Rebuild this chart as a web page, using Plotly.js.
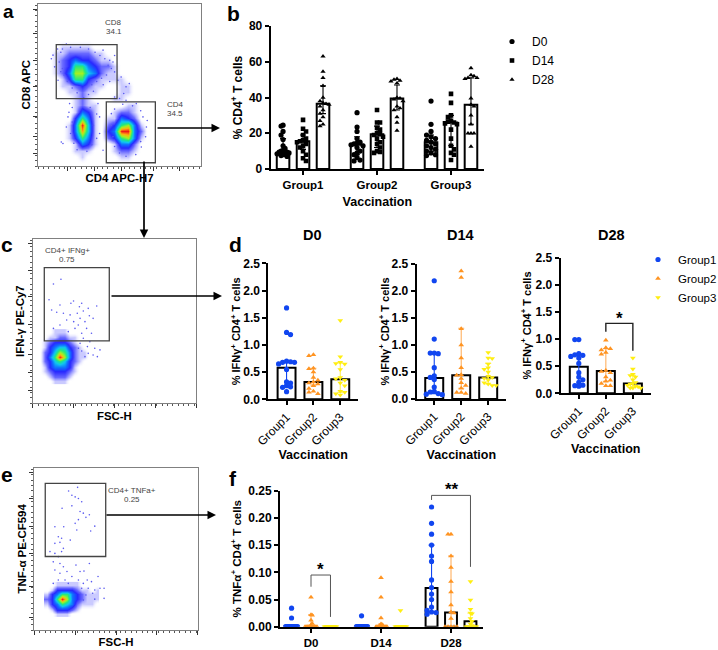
<!DOCTYPE html>
<html><head><meta charset="utf-8">
<script src="https://cdn.plot.ly/plotly-3.0.1.min.js"></script>
<style>html,body{margin:0;padding:0;background:#fff}</style></head>
<body><div id="chart" style="width:718px;height:650px"></div>
<script>
// ---------- panel b: % CD4+ T cells ----------
const groups = ["Group1","Group2","Group3"];
const days = ["D0","D14","D28"];
const cd4_g1_d0 = [24.5,24,21,19,16.5,13,11.5,10.5,10,9.5,9.5,9,9,8.5,8,7.5,7];
const cd4_g1_d14 = [27.5,22.5,21,19,17,16,15.5,15,14,13,12,10,8,6,4.5];
const cd4_g1_d28 = [63,54.5,51,46.5,40,38,37,36.5,36,35,33,31,29,27,25,24];
const cd4_g2_d0 = [31.5,23.5,21,17,15,14.5,14,13.5,13,12,10,9,8,6.5,5,4.5];
const cd4_g2_d14 = [33,26,26,23,22,20,19.5,19,18,17,15,14,12,10,9.5,9];
const cd4_g2_d28 = [50.5,50,49.5,49,48,40,39.5,39,38,35,34,33,29,26,21.5];
const cd4_g3_d0 = [38,25,21,19,18,17,16,15,14,13,12,11,10,9,8,7.5];
const cd4_g3_d14 = [42,37,30,29,27,26.5,26,25.5,25,22,17,13,11,9,8,5];
const cd4_g3_d28 = [56.5,52.5,52,51,51,50.5,39.5,36,35,30,25,20,20,20,12.5];
const cd4_med = [[9,13.5,15],[15.5,19.5,26],[36.5,39.5,36]];
const cd4_lo  = [[7,8,10],[11,12,13],[31,33,25]];
const cd4_hi  = [[17,18,19],[19,24,30],[46.5,47,51]];
// ---------- panel d: % IFNg+ ----------
const ifn_d0_g1 = [1.68,1.23,1.19,0.7,0.69,0.68,0.68,0.65,0.55,0.32,0.3,0.25,0.23,0.22,0.14];
const ifn_d0_g2 = [0.82,0.8,0.57,0.56,0.5,0.4,0.35,0.32,0.3,0.28,0.25,0.2,0.15,0.13,0.1];
const ifn_d0_g3 = [1.45,0.78,0.68,0.66,0.65,0.55,0.4,0.38,0.35,0.3,0.25,0.15,0.13,0.1,0.08];
const ifn_d14_g1 = [2.19,1.11,0.85,0.85,0.84,0.58,0.43,0.4,0.36,0.22,0.14,0.13,0.1,0.09,0.08];
const ifn_d14_g2 = [2.37,2.25,1.3,1.0,0.76,0.58,0.45,0.44,0.38,0.3,0.25,0.2,0.12,0.12,0.1];
const ifn_d14_g3 = [0.86,0.76,0.75,0.65,0.58,0.55,0.5,0.42,0.4,0.38,0.35,0.3,0.28,0.25,0.25];
const ifn_d28_g1 = [0.99,0.99,0.73,0.71,0.7,0.68,0.65,0.55,0.38,0.3,0.25,0.2,0.15,0.14,0.13];
const ifn_d28_g2 = [0.98,0.84,0.82,0.8,0.75,0.72,0.42,0.4,0.38,0.3,0.24,0.22,0.18,0.14,0.14];
const ifn_d28_g3 = [0.65,0.45,0.35,0.33,0.3,0.25,0.2,0.18,0.17,0.15,0.13,0.12,0.1,0.1,0.1];
const ifn_med = [[0.58,0.32,0.37],[0.39,0.44,0.4],[0.49,0.41,0.18]];
const ifn_lo  = [[0.25,0.26,0.13],[0.1,0.2,0.28],[0.15,0.22,0.12]];
const ifn_hi  = [[0.68,0.57,0.67],[0.85,1.31,0.66],[0.72,0.82,0.33]];
// ---------- panel f: % TNFa+ ----------
const tnf_d0_g1 = [0.034,0.016,0,0,0,0,0,0,0,0,0,0,0,0,0];
const tnf_d0_g2 = [0.054,0.022,0.021,0.012,0.006,0.003,0,0,0,0,0,0,0,0,0];
const tnf_d0_g3 = [0,0,0,0,0,0,0,0,0,0,0,0,0,0,0];
const tnf_d14_g1 = [0.02,0,0,0,0,0,0,0,0,0,0,0,0,0,0];
const tnf_d14_g2 = [0.09,0.054,0.016,0.005,0.004,0.002,0,0,0,0,0,0,0,0,0];
const tnf_d14_g3 = [0.03,0,0,0,0,0,0,0,0,0,0,0,0,0,0];
const tnf_d28_g1 = [0.22,0.19,0.17,0.15,0.13,0.12,0.086,0.072,0.06,0.05,0.036,0.03,0.027,0.026,0.023];
const tnf_d28_g2 = [0.17,0.17,0.13,0.109,0.083,0.064,0.04,0.027,0.025,0.015,0,0,0,0,0];
const tnf_d28_g3 = [0.083,0.049,0.032,0.025,0.024,0.015,0.01,0.005,0.002,0,0,0,0,0,0];
const tnf_med = [[0,0,0.071],[0,0,0.026],[0,0,0.01]];
const tnf_lo  = [[0,0,0.027],[0,0,0],[0,0,0]];
const tnf_hi  = [[0,0,0.15],[0.022,0.005,0.13],[0,0,0.025]];
// ---------- flow cytometry density, read by eye (levels 0-9) ----------
const aX = [7,11,15,19,23,27,31,35,39,43,47,51,55,59,63,67,71,75];
const aY = [77.4,73.4,69.4,65.4,61.4,57.4,53.4,49.4,45.4,41.4,37.4,33.4,29.4,25.4,21.4,17.4,13.4,9.4,5.4,1.4];
const aZ = ["000000000000000000","001111100000000000","011222211000000000","012343321100000000",
"012366432210000000","012477542110000000","001366321111000000","001123211001100000",
"000112110001100000","000012100011000000","000012110000110000","000014310012210000",
"000036410114320000","000149510236741000","000148510349942000","000136410236741000",
"000014310014420000","000011100012210000","000001000001100000","000000000000000000"];
const cX = [4.5,7.5,10.5,13.5,16.5,19.5,22.5,25.5,28.5,31.5,34.5];
const cY = [43.6,40.5,37.5,34.5,31.4,28.4,25.4,22.3,19.3,16.2,13.2];
const cZ = ["00011100000","00112211000","01233321000","01345532100","02357642110","02469742110",
"02356532100","01344431000","01233321000","00122210000","00011100000"];
const eX = [7.5,10.6,13.7,16.7,19.8,22.8,25.9,29,32,35.1,38.1];
const eY = [28.1,25,22,18.9,15.8,12.7,9.7];
const eZ = ["00111110000","01333321101","13466432111","23697432111","13465421110","01333210000","00111000000"];
const aDotsX = [47,49,51,54,52.6,56,50,47,54,9.2,8.2,10.2,12.3,15.3,14.3,17.4,18.4,19.4,37.8,37.8,39.9,36.8,17.4,39.9,44,45,64.4,63.4,60.3,66.5,
  12,14,13,15,16,15,20,26,31,35,38,41,43,45,42,39,36,33,40,14,18,21,24,31,28,34,44,46,47,
  19,21,20,22,24,30,33,36,34,36,32,21,45,46,47,50,54,60,63,66,67,63,58,52,47];
const aDotsY = [57.9,52.8,54.8,48.7,44.6,50.7,41.5,42.5,40.5,68.2,66,61,52.8,13.8,14.8,24,30.2,38.4,20,30.2,9.7,38.4,75,71.3,65,32.2,30.2,11.7,38.4,24,
  72,70,64,60,56,72,73,73,72,70,68,66,62,60,56,54,52,50,50,58,52,48,45,44,42,46,52,64,68,
  33,27,20,14,10,9,13,17,25,32,36,36,25,18,12,8,6,7,15,18,28,34,37,38,35];
const cDotsX = [17.3,12.7,10,25,23.4,30,28.6,16.7,39.2,34,31,11.6,14.7,18.8,27.3,34.7,22.9,29,37,25.1,32,20.8,16.7,27.9,25.9,33,36,21.8,30,12.7,31,35,29,33.5,38,41.2,30,34,37,32,28,39.6];
const cDotsY = [75.5,72.6,63,62.3,60.9,60.9,58.8,59.8,59.2,57.8,56.2,56.8,55.4,54.8,54.8,53.3,53.8,51.7,51.7,49.7,49.7,50.7,47.7,47.7,45.6,45.6,42.6,43.6,42.6,45.6,39.6,37.5,36.5,34.5,33.5,32.5,31.8,30.4,29.4,28.4,33.5,28.4];
const eDotsX = [26.5,21,23,25,27,29,17,23,28,30,33.7,31.6,27,25,37,34.5,12.6,18,26,14.7,16.7,22,12.6,15.7,17.8,9.6,12.6,16.7,14.7,11.6,15.7,17.8,12.6,15.7,20,25.5,33.7,28,30.4,23,14.7,18.8,27,32.4,39,11.6,20.8,30,35,40.2,42.7,42.7,37,33,29,35.7,31.6,28,37,30];
const eDotsY = [87.9,85.6,83,82,81,79,75,76.5,73,72,71,69.4,68,65.7,64,61,63.6,63.6,61.6,57.5,56.5,55.4,53.4,54,50.3,48.3,47.2,48.3,45.2,42,41,39,37,35,36,40,41,36,36.3,33,30.8,30.8,30.8,30.8,33,28.7,28.7,28.7,29.8,25.7,25.7,19.5,24.6,25.7,25.7,22.6,21.6,22.6,19,18.5];

const FONT = '"Liberation Sans", Arial, sans-serif';
const W = 718, H = 650;
const BLUE = '#1146f0', ORANGE = '#ff9422', YELLOW = '#ffee11';
const dx = (a,b)=>[a/W,b/W];
const dy = (top,bot)=>[1-bot/H,1-top/H];

function swarm(vals, pxPerUnit, capPx){
  const placed=[]; const out=[];
  vals.forEach((v,i)=>{
    const sgn = i%2? -1:1; let k=0, off=0;
    while(true){
      off = k===0?0:(k%2?sgn:-sgn)*Math.ceil(k/2)*4.5;
      if(!placed.some(p=>Math.abs(p.o-off)<4 && Math.abs(p.v-v)*pxPerUnit<3.6)) break;
      k++;
    }
    placed.push({o:off,v}); out.push(off);
  });
  const m=Math.max(1,...out.map(Math.abs));
  return m>capPx? out.map(o=>o*capPx/m): out;
}
const traces=[];
function bar(xa,ya,xs,med,lo,hi,width,ecolor){
  traces.push({type:'bar',x:xs,y:med,width,xaxis:xa,yaxis:ya,showlegend:false,hoverinfo:'skip',
    marker:{color:'#fff',line:{color:'#000',width:2}},
    error_y:{type:'data',symmetric:false,array:hi.map((h,i)=>h-med[i]),arrayminus:med.map((m,i)=>m-lo[i]),color:ecolor,thickness:1.1,width:3}});
}
function pts(xa,ya,name,xs,ys,symbol,color,size,showlegend,legend){
  const t={type:'scatter',mode:'markers',x:xs,y:ys,name,xaxis:xa,yaxis:ya,showlegend,legendgroup:name,hoverinfo:'skip',
    marker:{symbol,color,size,line:{width:0}}};
  if(legend) t.legend=legend;
  traces.push(t);
}
// panel b
const cd4Sets=[[cd4_g1_d0,cd4_g2_d0,cd4_g3_d0],[cd4_g1_d14,cd4_g2_d14,cd4_g3_d14],[cd4_g1_d28,cd4_g2_d28,cd4_g3_d28]];
const cd4Off=[-0.27,0,0.27], cd4Sym=['circle','square','triangle-up'], cd4Size=[5.2,4.6,4.6];
days.forEach((d,i)=>{
  bar('x','y',[0,1,2].map(c=>c+cd4Off[i]),cd4_med[i],cd4_lo[i],cd4_hi[i],0.17,'#000');
});
days.forEach((d,i)=>{
  const xs=[],ys=[];
  cd4Sets[i].forEach((vals,g)=>{
    swarm(vals,143/80,6).forEach((o,j)=>{xs.push(g+cd4Off[i]+o/74);ys.push(vals[j]);});
  });
  pts('x','y',d,xs,ys,cd4Sym[i],'#000',cd4Size[i],true,'legend');
});
// panel d
const ifnSets=[[ifn_d0_g1,ifn_d0_g2,ifn_d0_g3],[ifn_d14_g1,ifn_d14_g2,ifn_d14_g3],[ifn_d28_g1,ifn_d28_g2,ifn_d28_g3]];
const gCol=[BLUE,ORANGE,YELLOW], gSym=['circle','triangle-up','triangle-down'], gSize=[5.2,5,5];
const gErr=[BLUE,'#ffb060','#ffee55'];
ifnSets.forEach((set,p)=>{
  const xa='x'+(p+2), ya='y'+(p+2);
  set.forEach((vals,g)=>bar(xa,ya,[g],[ifn_med[p][g]],[ifn_lo[p][g]],[ifn_hi[p][g]],0.667,gErr[g]));
  set.forEach((vals,g)=>{
    const xs=swarm(vals,136/2.5,8).map(o=>g+o/27);
    pts(xa,ya,groups[g],xs,vals,gSym[g],gCol[g],gSize[g],p===0,'legend2');
  });
});
// panel f
const tnfSets=[[tnf_d0_g1,tnf_d14_g1,tnf_d28_g1],[tnf_d0_g2,tnf_d14_g2,tnf_d28_g2],[tnf_d0_g3,tnf_d14_g3,tnf_d28_g3]];
const fOff=[-0.278,0,0.278];
tnfSets.forEach((set,g)=>bar('x5','y5',[0,1,2].map(c=>c+fOff[g]),tnf_med[g],tnf_lo[g],tnf_hi[g],0.17,gErr[g]));
tnfSets.forEach((set,g)=>{
  const xs=[],ys=[];
  set.forEach((vals,c)=>swarm(vals,136/0.25,6).forEach((o,j)=>{xs.push(c+fOff[g]+o/70);ys.push(vals[j]);}));
  pts('x5','y5',groups[g],xs,ys,gSym[g],gCol[g],gSize[g],false);
});
// flow plots
const jet=[[0,'rgba(255,255,255,0)'],[0.11,'rgba(150,150,255,0.5)'],[0.22,'rgba(70,70,255,0.8)'],[0.33,'#2828ff'],[0.44,'#1070ff'],[0.55,'#10c8f0'],[0.66,'#20e880'],[0.78,'#a8f020'],[0.88,'#ffb010'],[1,'#f01818']];
function flow(xa,ya,X,Y,Z,dX,dY){
  traces.push({type:'heatmap',x:X,y:Y.slice().reverse(),z:Z.slice().reverse().map(r=>r.split('').map(Number)),
    xaxis:xa,yaxis:ya,zmin:0,zmax:9,zsmooth:'best',colorscale:jet,showscale:false,hoverinfo:'skip'});
  traces.push({type:'scatter',mode:'markers',x:dX,y:dY,xaxis:xa,yaxis:ya,showlegend:false,hoverinfo:'skip',
    marker:{size:1.6,color:'#5a5af0',line:{width:0}}});
}
flow('x6','y6',aX,aY,aZ,aDotsX,aDotsY);
flow('x7','y7',cX,cY,cZ,cDotsX,cDotsY);
flow('x8','y8',eX,eY,eZ,eDotsX,eDotsY);

// layout
const tf=(s,w)=>({family:FONT,size:s,color:'#000',weight:w||700});
function plotAxes(n,xd,yd,xr,yrange,ytick,ytitle,xtitle,xticks,xlabels,tfx,tangle,yfmt,ts,xs0,ys0){
  const xs='xaxis'+(n>1?n:''), ys='yaxis'+(n>1?n:'');
  const o={};
  o[xs]={domain:dx(...xd),range:xr,anchor:'y'+(n>1?n:''),showgrid:false,zeroline:false,showline:true,linecolor:'#000',linewidth:2,
    ticks:'outside',ticklen:4,tickwidth:2,tickcolor:'#000',tickmode:'array',tickvals:xticks,ticktext:xlabels,tickfont:tfx,tickangle:tangle,
    title:xtitle?{text:xtitle,font:tf(12.5),standoff:xs0}:undefined,fixedrange:true};
  o[ys]={domain:dy(...yd),range:yrange,anchor:'x'+(n>1?n:''),showgrid:false,zeroline:false,showline:true,linecolor:'#000',linewidth:2,
    ticks:'outside',ticklen:4,tickwidth:2,tickcolor:'#000',tick0:0,dtick:ytick,tickformat:yfmt,tickfont:tf(12),
    title:{text:ytitle,font:tf(ts),standoff:ys0},fixedrange:true};
  return o;
}
function flowAxes(n,xd,yd,xmaj,ymaj,xtitle,ytitle){
  const o={};
  const base={showgrid:false,zeroline:false,showline:true,mirror:true,linecolor:'#808080',linewidth:1,ticks:'outside',
    tickcolor:'#333',tickwidth:1,ticklen:4,showticklabels:false,range:[0,100],tickmode:'array',fixedrange:true,
    minor:{ticks:'outside',ticklen:2,tickcolor:'#555',tickmode:'linear',dtick:3.3,tick0:0}};
  o['xaxis'+n]=Object.assign({},base,{domain:dx(...xd),anchor:'y'+n,tickvals:xmaj,title:{text:xtitle,font:tf(11.4),standoff:4}});
  o['yaxis'+n]=Object.assign({},base,{domain:dy(...yd),anchor:'x'+n,tickvals:ymaj,title:{text:ytitle,font:tf(11.4),standoff:0}});
  return o;
}
const IFN='% IFNγ<sup>+</sup> CD4<sup>+</sup> T cells';
const g012=[0,1,2];
const legendBase={xanchor:'left',yanchor:'top',font:{family:FONT,size:12,color:'#000'},bgcolor:'rgba(0,0,0,0)',itemclick:false,itemdoubleclick:false,tracegroupgap:0};
const layout=Object.assign({
  width:W,height:H,margin:{l:0,r:0,t:0,b:0,autoexpand:false},paper_bgcolor:'#fff',plot_bgcolor:'rgba(0,0,0,0)',font:{family:FONT,color:'#000'},
  barmode:'overlay',
  legend:Object.assign({x:492/W,y:1-27/H},legendBase),
  legend2:Object.assign({x:638/W,y:1-245/H},legendBase,{font:{family:FONT,size:11.5,color:'#000'}}),
},
 plotAxes(1,[270.7,484],[26,169],[-0.437,2.446],[0,80],20,'% CD4<sup>+</sup> T cells','Vaccination',g012,groups,tf(11.5),0,undefined,12,7,4),
 plotAxes(2,[268.3,358],[263.3,399.3],[-0.68,2.66],[0,2.5],0.5,IFN,'Vaccination',g012,groups,tf(12,400),-45,'.1f',11,3,0),
 plotAxes(3,[416.7,506],[264,399],[-0.65,2.66],[0,2.5],0.5,IFN,'Vaccination',g012,groups,tf(12,400),-45,'.1f',11,3,0),
 plotAxes(4,[560.7,650.7],[257.7,393.3],[-0.67,2.66],[0,2.5],0.5,IFN,'Vaccination',g012,groups,tf(12,400),-45,'.1f',11,3,2),
 plotAxes(5,[280,483],[490.7,626.7],[-0.443,2.457],[0,0.25],0.05,'% TNFα<sup>+</sup> CD4<sup>+</sup> T cells',null,g012,days,tf(11.5),0,'.2f',11.5,7,4),
 flowAxes(6,[38,201],[3.5,166],[18.4,34.8,51,70.6,87],[96.3,81.5,65,48.7,30.2,17.9,7.6],'CD4 APC-H7','CD8 APC'),
 flowAxes(7,[32.7,196],[239,403.3],[0,25,50,75,100],[97,81,65,48,30,19,8],'FSC-H','IFN-γ PE-Cy7'),
 flowAxes(8,[34.3,197.7],[467.7,630],[0,25,50,75,100],[97,81,64,47,27,8],'FSC-H','TNF-α PE-CF594')
);
const gate=(n,x0,x1,y0,y1)=>({type:'rect',xref:'x'+n,yref:'y'+n,x0,x1,y0,y1,line:{color:'#444',width:1.3},fillcolor:'rgba(0,0,0,0)'});
const seg=(n,xs,ys,c,w)=>({type:'path',xref:'x'+n,yref:'y'+n,path:xs.map((x,i)=>(i?'L':'M')+x+' '+ys[i]).join(' '),line:{color:c,width:w}});
layout.shapes=[
  gate(6,11.2,48.5,41.5,74.7),gate(6,41.9,72,2,39.4),gate(7,7.1,46.9,38,82.6),gate(8,6.7,43.7,45.3,90.3),
  seg(4,[1,1,2,2],[1.136,1.29,1.29,0.786],'#222',1.4),
  seg(5,[0,0,0.278,0.278],[0.0735,0.095,0.095,0.018],'#555',1),
  seg(5,[1.722,1.722,2.278,2.278],[0.233,0.2414,0.2414,0.11],'#555',1),
];
const txt=(x,y,text,size,extra)=>Object.assign({xref:'paper',yref:'paper',x:x/W,y:1-y/H,text,showarrow:false,xanchor:'center',yanchor:'middle',
  font:{family:FONT,size,color:'#000'}},extra||{});
const arrow=(x,y,ax,ay)=>({xref:'paper',yref:'paper',x:x/W,y:1-y/H,ax,ay,text:'',showarrow:true,arrowhead:2,arrowsize:1,arrowwidth:1.7,arrowcolor:'#000'});
const small={family:FONT,size:8,color:'#444'};
const bold=(s)=>({family:FONT,size:s,color:'#000',weight:700});
layout.annotations=[
  txt(8,12,'a',19,{font:bold(19)}),txt(233,13,'b',20,{font:bold(21)}),txt(7,244,'c',20,{font:bold(21)}),
  txt(236,244,'d',20,{font:bold(21)}),txt(7,474,'e',20,{font:bold(21)}),txt(233,478,'f',20,{font:bold(21)}),
  txt(312,235,'D0',14,{font:bold(14.5)}),txt(460,235,'D14',14,{font:bold(14.5)}),txt(611.7,235,'D28',14,{font:bold(14.5)}),
  txt(619.3,318,'*',16,{font:bold(17)}),txt(320.7,569,'*',16,{font:bold(17)}),txt(451.7,489,'**',16,{font:bold(17)}),
  txt(114,23,'CD8',8,{font:small}),txt(114,32,'34.1',8,{font:small}),
  txt(175,105,'CD4',8,{font:small}),txt(175,114,'34.5',8,{font:small}),
  txt(67,250.7,'CD4+ IFNg+',8,{font:small}),txt(67,259,'0.75',8,{font:small}),
  txt(131.7,490,'CD4+ TNFa+',8,{font:small}),txt(131.7,499,'0.25',8,{font:small}),
  arrow(220,128,-64,0),arrow(144,238,0,-78),arrow(222,296,-112,0),arrow(216,515,-111,0),
];
Plotly.newPlot('chart',traces,layout,{staticPlot:true,displayModeBar:false});
</script></body></html>
